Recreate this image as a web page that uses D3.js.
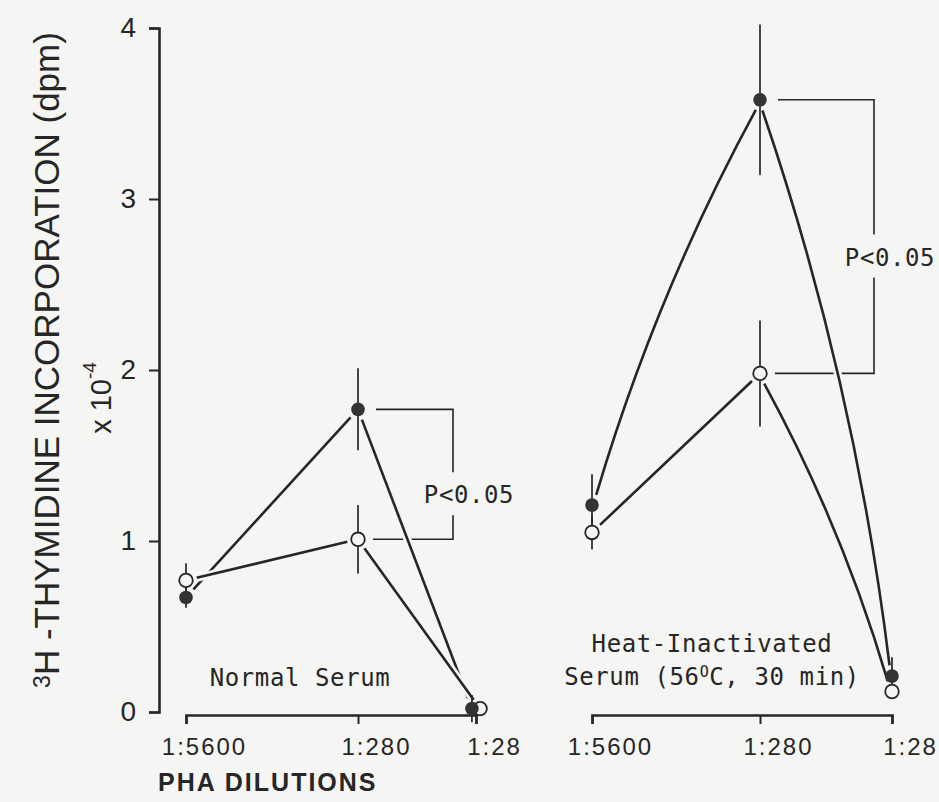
<!DOCTYPE html>
<meta charset="utf-8">
<script src="https://cdn.jsdelivr.net/npm/d3@7"></script>
<style>
    body { margin: 0; background: #f5f5f3; }
    svg { display: block; }
    .mono { font-family: "DejaVu Sans Mono", monospace; }
    .sans { font-family: "Liberation Sans", Arial, sans-serif; }
</style>
<div id="my_dataviz"></div>
<script>
    // values, dpm x 10^4
    var dilutions = ["1:5600", "1:280", "1:28"];
    var yTicks = [0, 1, 2, 3, 4];

    var normalFilled = [0.67, 1.77, 0.02];
    var normalFilledErr = [0.06, 0.24, 0.08];
    var normalOpen = [0.77, 1.01, 0.02];
    var normalOpenErr = [0.10, 0.20, 0];

    var heatFilled = [1.21, 3.58, 0.21];
    var heatFilledErr = [0.18, 0.44, 0.11];
    var heatOpen = [1.05, 1.98, 0.12];
    var heatOpenErr = [0.10, 0.31, 0];

    var pLabel = "P<0.05";
    var xTitle = "PHA DILUTIONS";

    var width = 939, height = 802;
    var ink = "#262626", paper = "#f5f5f3";

    var svg = d3.select("#my_dataviz")
        .append("svg")
        .attr("width", width)
        .attr("height", height);

    var y = d3.scaleLinear().domain([0, 4]).range([712, 28]);

    // one entry per panel; x is an ordinal scale onto the printed tick spots
    var panels = [
        {
            x: d3.scaleOrdinal().domain(dilutions).range([186, 358, 476]),
            filled: normalFilled, filledErr: normalFilledErr,
            open: normalOpen, openErr: normalOpenErr,
            bowFilled: [0, 0], bowOpen: [0, 0], bracketDx: 95,
            label: ["Normal Serum"], labelX: 300, labelY: 686
        },
        {
            x: d3.scaleOrdinal().domain(dilutions).range([592, 760, 892]),
            filled: heatFilled, filledErr: heatFilledErr,
            open: heatOpen, openErr: heatOpenErr,
            bowFilled: [0.025, 0.025], bowOpen: [0, 0.025], bracketDx: 114,
            label: ["Heat-Inactivated", "Serum (56", "O", "C, 30 min)"], labelX: 712, labelY: 652
        }
    ];

    // Y axis (outer ticks give the hooks at 0 and 4)
    var yAxis = svg.append("g")
        .attr("transform", "translate(159,0)")
        .call(d3.axisLeft(y).tickValues(yTicks).tickSize(10).tickSizeOuter(10).tickPadding(13).tickFormat(d3.format("d")));
    yAxis.select(".domain").attr("stroke", ink).attr("stroke-width", 2.6);
    yAxis.selectAll(".tick line").attr("stroke", ink).attr("stroke-width", 2);
    yAxis.selectAll("text")
        .attr("class", "sans")
        .style("font-size", "28px")
        .attr("fill", ink);

    // Y title
    var yt = svg.append("text")
        .attr("class", "sans")
        .attr("transform", "translate(59,360)rotate(-90)")
        .attr("text-anchor", "middle")
        .style("font-size", "35px")
        .attr("fill", ink);
    yt.append("tspan").style("font-size", "23px").attr("dy", "-0.4em").text("3");
    yt.append("tspan").attr("dy", "0.27em").text("H -THYMIDINE INCORPORATION (dpm)");

    var ex = svg.append("text")
        .attr("class", "sans")
        .attr("transform", "translate(111,398)rotate(-90)")
        .attr("text-anchor", "middle")
        .style("font-size", "29px")
        .attr("fill", ink);
    ex.append("tspan").text("x 10");
    ex.append("tspan").style("font-size", "19px").attr("dy", "-0.8em").text("-4");

    svg.append("text")
        .attr("class", "sans")
        .attr("x", 158)
        .attr("y", 791)
        .style("font-size", "25px")
        .style("font-weight", "bold")
        .style("letter-spacing", "2px")
        .attr("fill", ink)
        .text(xTitle);

    // path for a segment: trimmed at both ends, optionally bowed outward
    function segPath(p0, p1, trim, bow) {
        var dx = p1[0] - p0[0], dy = p1[1] - p0[1];
        var len = Math.sqrt(dx * dx + dy * dy);
        var ux = dx / len, uy = dy / len;
        var a = [p0[0] + ux * trim, p0[1] + uy * trim];
        var b = [p1[0] - ux * trim, p1[1] - uy * trim];
        var p = d3.path();
        p.moveTo(a[0], a[1]);
        if (bow) {
            var c = [(a[0] + b[0]) / 2 + uy * bow * len * 2, (a[1] + b[1]) / 2 - ux * bow * len * 2];
            p.quadraticCurveTo(c[0], c[1], b[0], b[1]);
        } else {
            p.lineTo(b[0], b[1]);
        }
        return p.toString();
    }

    var r = 6.8;

    panels.forEach(function (pan) {
        var x = pan.x;

        // X axis
        var xa = svg.append("g")
            .attr("transform", "translate(0,715)")
            .call(d3.axisBottom(x).tickSize(9).tickSizeOuter(9).tickPadding(14));
        xa.select(".domain").attr("stroke", ink).attr("stroke-width", 2.6);
        xa.selectAll(".tick line").attr("stroke", ink).attr("stroke-width", 2);
        xa.selectAll("text")
            .attr("class", "sans")
            .attr("dx", 18)
            .style("font-size", "24px")
            .style("letter-spacing", "2px")
            .attr("fill", ink);

        // point positions; nudge apart points that sit on top of each other
        var fPts = dilutions.map(function (d, i) { return [x(d), y(pan.filled[i])]; });
        var oPts = dilutions.map(function (d, i) { return [x(d), y(pan.open[i])]; });
        fPts.forEach(function (f, i) {
            if (Math.abs(f[1] - oPts[i][1]) < r) {
                f[0] -= r * 0.6;
                oPts[i][0] += r * 0.6;
            }
        });

        // P bracket between the two series at 1:280
        var bx = x(dilutions[1]) + pan.bracketDx;
        var top = y(pan.filled[1]), bot = y(pan.open[1]);
        var mid = (top + bot) / 2 + 20;
        var br = d3.path();
        br.moveTo(x(dilutions[1]) + 18, top); br.lineTo(bx, top); br.lineTo(bx, mid - 22);
        br.moveTo(bx, mid + 21); br.lineTo(bx, bot); br.lineTo(x(dilutions[1]) + 15, bot);
        svg.append("path")
            .attr("d", br.toString())
            .attr("fill", "none")
            .attr("stroke", ink)
            .attr("stroke-width", 1.6);
        svg.append("text")
            .attr("class", "mono")
            .attr("x", bx + 16)
            .attr("y", mid + 9)
            .attr("text-anchor", "middle")
            .style("font-size", "24px")
            .style("letter-spacing", "0.6px")
            .attr("fill", ink)
            .text(pLabel);

        // connecting lines, with a paper-coloured halo so they cut the bracket
        [[fPts, pan.bowFilled], [oPts, pan.bowOpen]].forEach(function (s) {
            var pts = s[0], bows = s[1];
            var segs = d3.pairs(pts);
            svg.selectAll(null)
                .data(segs).enter()
                .append("path")
                .attr("d", function (g, i) { return segPath(g[0], g[1], 12, bows[i]); })
                .attr("fill", "none")
                .attr("stroke", paper)
                .attr("stroke-width", 8);
            svg.selectAll(null)
                .data(segs).enter()
                .append("path")
                .attr("d", function (g, i) { return segPath(g[0], g[1], 11, bows[i]); })
                .attr("fill", "none")
                .attr("stroke", ink)
                .attr("stroke-width", 2.6);
        });

        // error bars
        function bars(pts, vals, errs) {
            svg.selectAll(null)
                .data(pts).enter()
                .append("line")
                .attr("x1", function (p) { return p[0]; })
                .attr("x2", function (p) { return p[0]; })
                .attr("y1", function (p, i) { return y(vals[i] + errs[i]); })
                .attr("y2", function (p, i) { return y(vals[i] - errs[i]); })
                .attr("stroke", ink)
                .attr("stroke-width", 1.7);
        }
        bars(oPts, pan.open, pan.openErr);
        bars(fPts, pan.filled, pan.filledErr);

        // markers
        svg.selectAll(null)
            .data(oPts).enter()
            .append("circle")
            .attr("cx", function (p) { return p[0]; })
            .attr("cy", function (p) { return p[1]; })
            .attr("r", r)
            .attr("fill", paper)
            .attr("stroke", ink)
            .attr("stroke-width", 1.8);
        svg.selectAll(null)
            .data(fPts).enter()
            .append("circle")
            .attr("cx", function (p) { return p[0]; })
            .attr("cy", function (p) { return p[1]; })
            .attr("r", r)
            .attr("fill", "#333");

        // panel caption
        var cap = svg.append("text")
            .attr("class", "mono")
            .attr("x", pan.labelX)
            .attr("y", pan.labelY)
            .attr("text-anchor", "middle")
            .style("font-size", "24px")
            .style("letter-spacing", "0.6px")
            .attr("fill", ink);
        if (pan.label.length === 1) {
            cap.text(pan.label[0]);
        } else {
            cap.append("tspan").text(pan.label[0]);
            var l2 = cap.append("tspan").attr("x", pan.labelX).attr("dy", 33);
            l2.append("tspan").text(pan.label[1]);
            l2.append("tspan").style("font-size", "15px").attr("dy", "-0.55em").text(pan.label[2]);
            l2.append("tspan").attr("dy", "0.35em").text(pan.label[3]);
        }
    });
</script>
